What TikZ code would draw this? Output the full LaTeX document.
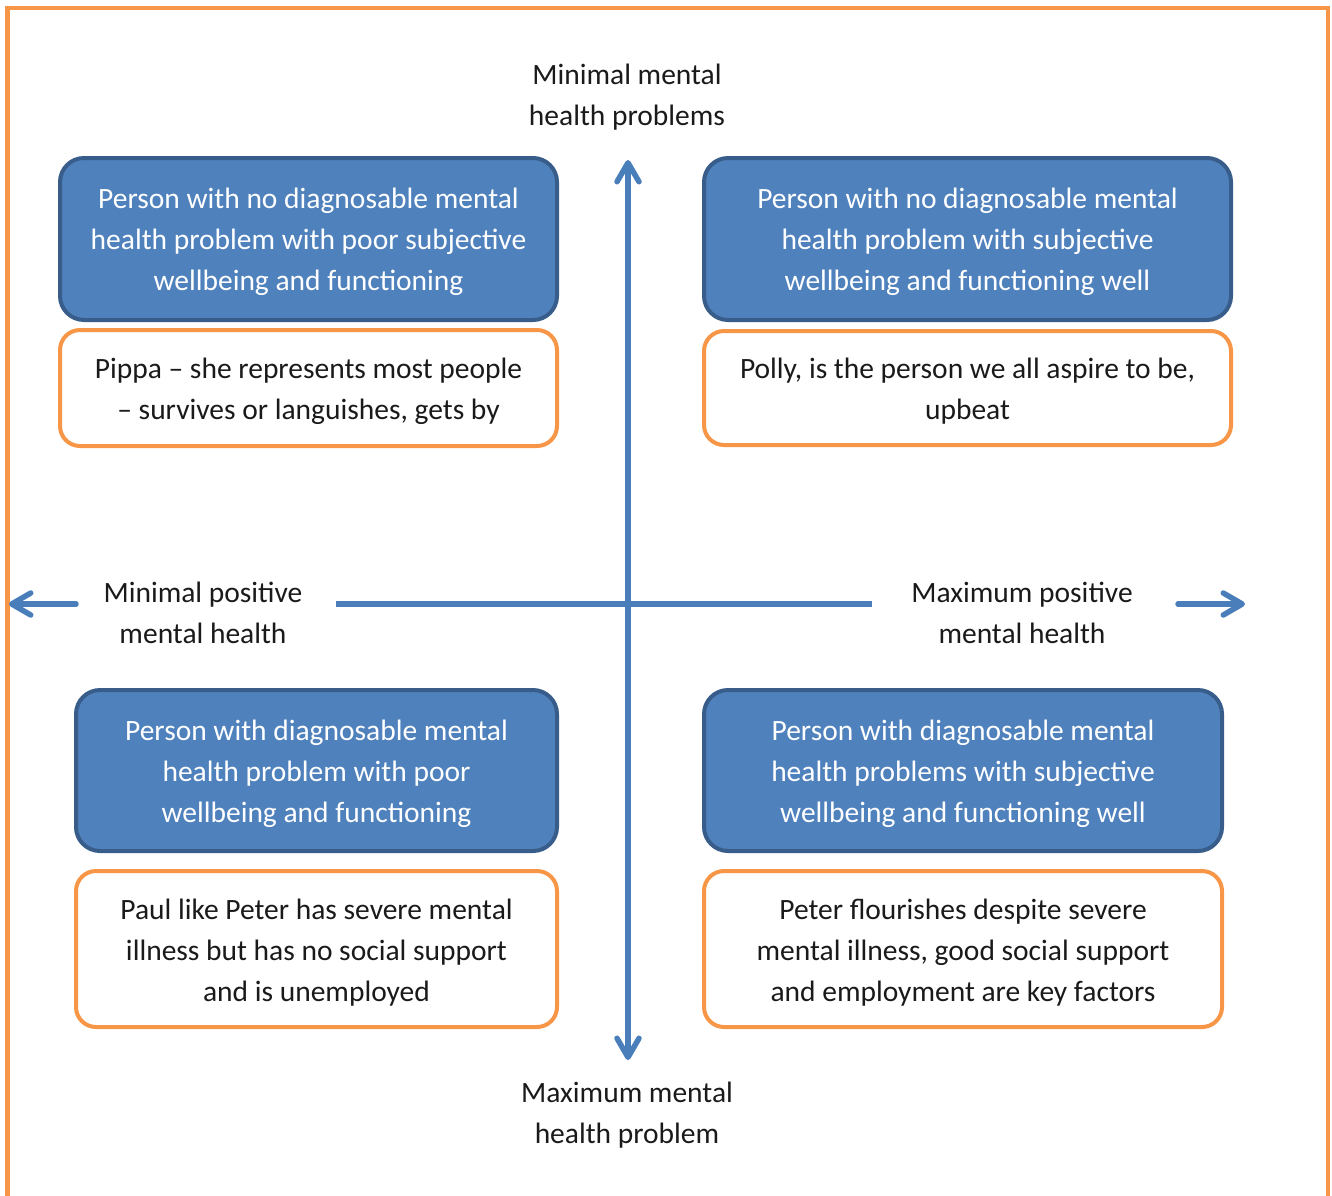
\documentclass[tikz,border=0pt]{standalone}
\usepackage{fontspec}
\setmainfont{Carlito}
\usetikzlibrary{arrows.meta}
\definecolor{frameorange}{HTML}{F79646}
\definecolor{boxblue}{HTML}{4F81BD}
\definecolor{boxedge}{HTML}{385D8A}
\definecolor{axisblue}{HTML}{4A7EBB}
\definecolor{ink}{HTML}{1A1A1A}
% tall strut for the first line of a box: lowers the text slightly in its box
\newcommand\toplift{\rule{0pt}{27pt}}
\begin{document}
\begin{tikzpicture}[x=1pt,y=-1pt,
  every node/.style={font=\fontsize{29.5}{41}\selectfont, align=center, inner sep=0pt},
  bluebox/.style={draw=boxedge, fill=boxblue, line width=4pt, rounded corners=24pt, text=white},
  notebox/.style={draw=frameorange, fill=white, line width=4pt, rounded corners=20pt, text=ink},
  axislabel/.style={text=ink},
  axis/.style={draw=axisblue, line width=5.5pt, line cap=round},
  tip/.style={-{Straight Barb[length=19pt,width=22pt,line cap=round,line join=round]}}
]
\useasboundingbox (0,0) rectangle (1332,1195);
% outer frame, open at the bottom
\draw[frameorange, line width=4.5pt] (7.5,1200) -- (7.5,8) -- (1328,8) -- (1328,1200);

% quadrant boxes
\node[bluebox, minimum width=497pt, minimum height=162pt] (tlb) at (308.5,239)
  {\toplift Person with no diagnosable mental\\health problem with poor subjective\\wellbeing and functioning};
\node[notebox, minimum width=497pt, minimum height=116pt] (tln) at (308.5,388)
  {\toplift Pippa – she represents most people\\– survives or languishes, gets by};
\node[bluebox, minimum width=527pt, minimum height=162pt] (trb) at (967.5,239)
  {\toplift Person with no diagnosable mental\\health problem with subjective\\wellbeing and functioning well};
\node[notebox, minimum width=527pt, minimum height=114pt] (trn) at (967.5,388)
  {\toplift Polly, is the person we all aspire to be,\\upbeat};
\node[bluebox, minimum width=481pt, minimum height=161pt] (blb) at (316.5,770.5)
  {\toplift Person with diagnosable mental\\health problem with poor\\wellbeing and functioning};
\node[notebox, minimum width=481pt, minimum height=156pt] (bln) at (316.5,949)
  {\toplift Paul like Peter has severe mental\\illness but has no social support\\and is unemployed};
\node[bluebox, minimum width=518pt, minimum height=161pt] (brb) at (963,770.5)
  {\toplift Person with diagnosable mental\\health problems with subjective\\wellbeing and functioning well};
\node[notebox, minimum width=518pt, minimum height=156pt] (brn) at (963,949)
  {\toplift Peter flourishes despite severe\\mental illness, good social support\\and employment are key factors};

% axis labels
\node[axislabel] (top) at (627,97.5) {Minimal mental\\health problems};
\node[axislabel] (bottom) at (627,1115) {Maximum mental\\health problem};
\node[axislabel] (left) at (203,612.5) {Minimal positive\\mental health};
\node[axislabel] (right) at (1022,612.5) {Maximum positive\\mental health};

% axis end points
\coordinate (vtop) at (628,160);
\coordinate (vbot) at (628,1060);
\coordinate (hleft) at (9,604);
\coordinate (hleftin) at (76,604);
\coordinate (hmidl) at (336,604);
\coordinate (hmidr) at (872,604);
\coordinate (hrightin) at (1178,604);
\coordinate (hright) at (1245,604);

% axes
\draw[axis, tip] (628,604) -- (vtop);
\draw[axis, tip] (628,604) -- (vbot);
\draw[axis, tip] (hleftin) -- (hleft);
\draw[axis, line cap=butt] (hmidl) -- (hmidr);
\draw[axis, tip] (hrightin) -- (hright);
\end{tikzpicture}
\end{document}
